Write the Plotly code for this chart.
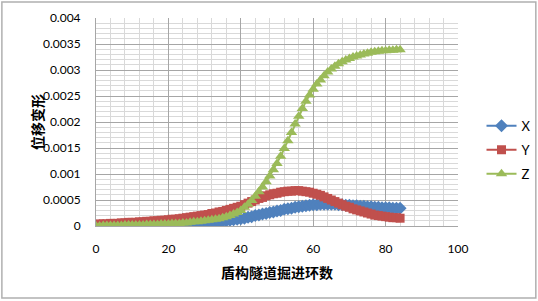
import plotly.graph_objects as go

# ── Data: ring number vs displacement ────────────────────────────────────────
rings = list(range(0, 85))

disp_x = [
    0.00000, 0.00000, 0.00000, 0.00000, 0.00000, 0.00000, 0.00000, 0.00000, 0.00000, 0.00000,
    0.00001, 0.00001, 0.00001, 0.00001, 0.00001, 0.00001, 0.00001, 0.00001, 0.00001, 0.00001,
    0.00002, 0.00002, 0.00002, 0.00002, 0.00002, 0.00002, 0.00003, 0.00003, 0.00004, 0.00004,
    0.00005, 0.00006, 0.00006, 0.00007, 0.00008, 0.00009, 0.00010, 0.00011, 0.00012, 0.00013,
    0.00014, 0.00015, 0.00017, 0.00018, 0.00020, 0.00021, 0.00023, 0.00024, 0.00026, 0.00027,
    0.00029, 0.00030, 0.00032, 0.00033, 0.00034, 0.00036, 0.00037, 0.00038, 0.00039, 0.00040,
    0.00041, 0.00041, 0.00042, 0.00042, 0.00042, 0.00042, 0.00042, 0.00041, 0.00041, 0.00040,
    0.00040, 0.00039, 0.00039, 0.00038, 0.00038, 0.00037, 0.00037, 0.00036, 0.00036, 0.00035,
    0.00035, 0.00035, 0.00034, 0.00034, 0.00034,
]

disp_y = [
    0.00003, 0.00004, 0.00004, 0.00004, 0.00005, 0.00005, 0.00005, 0.00006, 0.00006, 0.00007,
    0.00007, 0.00007, 0.00008, 0.00008, 0.00009, 0.00009, 0.00010, 0.00010, 0.00011, 0.00011,
    0.00012, 0.00013, 0.00013, 0.00014, 0.00015, 0.00016, 0.00017, 0.00018, 0.00019, 0.00020,
    0.00021, 0.00022, 0.00024, 0.00025, 0.00027, 0.00028, 0.00030, 0.00032, 0.00034, 0.00036,
    0.00038, 0.00041, 0.00044, 0.00047, 0.00050, 0.00053, 0.00055, 0.00058, 0.00060, 0.00062,
    0.00063, 0.00065, 0.00066, 0.00067, 0.00067, 0.00068, 0.00068, 0.00067, 0.00066, 0.00065,
    0.00063, 0.00061, 0.00059, 0.00056, 0.00053, 0.00050, 0.00047, 0.00044, 0.00041, 0.00038,
    0.00036, 0.00033, 0.00031, 0.00029, 0.00027, 0.00025, 0.00023, 0.00021, 0.00020, 0.00019,
    0.00018, 0.00017, 0.00016, 0.00016, 0.00015,
]

disp_z = [
    0.00000, 0.00000, 0.00001, 0.00001, 0.00001, 0.00001, 0.00001, 0.00001, 0.00002, 0.00002,
    0.00002, 0.00002, 0.00002, 0.00002, 0.00003, 0.00003, 0.00003, 0.00003, 0.00004, 0.00004,
    0.00004, 0.00005, 0.00005, 0.00005, 0.00006, 0.00006, 0.00007, 0.00008, 0.00008, 0.00009,
    0.00010, 0.00011, 0.00012, 0.00013, 0.00014, 0.00016, 0.00018, 0.00020, 0.00023, 0.00026,
    0.00030, 0.00036, 0.00042, 0.00049, 0.00057, 0.00066, 0.00075, 0.00085, 0.00096, 0.00108,
    0.00120, 0.00134, 0.00149, 0.00164, 0.00180, 0.00196, 0.00211, 0.00226, 0.00240, 0.00252,
    0.00263, 0.00273, 0.00281, 0.00289, 0.00296, 0.00302, 0.00307, 0.00312, 0.00316, 0.00319,
    0.00322, 0.00325, 0.00327, 0.00329, 0.00331, 0.00332, 0.00334, 0.00335, 0.00336, 0.00337,
    0.00337, 0.00338, 0.00338, 0.00339, 0.00339,
]

series_names = ["X", "Y", "Z"]
x_ticks = [0, 20, 40, 60, 80, 100]
y_ticks = [0, 0.0005, 0.001, 0.0015, 0.002, 0.0025, 0.003, 0.0035, 0.004]
y_ticktext = ["0", "0.0005", "0.001", "0.0015", "0.002", "0.0025", "0.003", "0.0035", "0.004"]

# ── Styling (Excel 2007 default palette) ─────────────────────────────────────
styles = [
    dict(color="#4F81BD", symbol="diamond", size=10),
    dict(color="#C0504D", symbol="square", size=9),
    dict(color="#9BBB59", symbol="triangle-up", size=10),
]

NUM_FONT = "Lato, 'Noto Sans', sans-serif"
CJK_FONT = "'Noto Sans CJK SC', sans-serif"

fig = go.Figure()
for name, vals, st in zip(series_names, [disp_x, disp_y, disp_z], styles):
    fig.add_trace(go.Scatter(
        x=rings, y=vals, name=name, mode="lines+markers", legendgroup=name,
        line=dict(color=st["color"], width=2),
        marker=dict(color=st["color"], symbol=st["symbol"], size=st["size"]),
    ))

fig.update_layout(
    width=538, height=301,
    paper_bgcolor="white", plot_bgcolor="white",
    margin=dict(l=96, r=80, t=18, b=75),
    font=dict(family=NUM_FONT, size=12, color="black"),
    xaxis=dict(
        range=[0, 100], tickvals=x_ticks, automargin=False,
        showgrid=True, gridcolor="#a6a6a6", gridwidth=1,
        minor=dict(dtick=4, showgrid=True, gridcolor="#d9d9d9", gridwidth=1),
        showline=True, linecolor="#a6a6a6", linewidth=1,
        zeroline=False, ticks="", ticklabelstandoff=12,
    ),
    yaxis=dict(
        range=[0, 0.004], tickvals=y_ticks, ticktext=y_ticktext, automargin=False,
        showgrid=True, gridcolor="#a6a6a6", gridwidth=1,
        minor=dict(dtick=0.0001, showgrid=True, gridcolor="#d9d9d9", gridwidth=1),
        showline=True, linecolor="#a6a6a6", linewidth=1,
        zeroline=False, ticks="", ticklabelstandoff=12,
    ),
    legend=dict(
        xref="container", yref="container",
        x=0.895, xanchor="left", y=0.502, yanchor="middle",
        font=dict(family=NUM_FONT, size=13), tracegroupgap=4,
        itemwidth=30, bgcolor="rgba(0,0,0,0)",
    ),
    showlegend=True,
)

# axis titles
fig.add_annotation(
    text="<b>盾构隧道掘进环数</b>", xref="paper", yref="paper",
    x=0.5, y=-0.221, xanchor="center", yanchor="middle", showarrow=False,
    font=dict(family=CJK_FONT, size=14, color="black"),
)
fig.add_annotation(
    text="<b>位移变形</b>", xref="paper", yref="paper",
    x=-0.163, y=0.5, xanchor="center", yanchor="middle",
    showarrow=False, textangle=-90,
    font=dict(family=CJK_FONT, size=14, color="black"),
)

# outer chart border
fig.add_shape(
    type="rect", xref="paper", yref="paper",
    x0=-0.26, x1=1.215, y0=-0.346, y1=1.077,
    line=dict(color="#b0b0b0", width=1.5), layer="above",
)

fig.write_html("out.html", config={"displayModeBar": False},
               post_script="document.body.style.margin='0';")
